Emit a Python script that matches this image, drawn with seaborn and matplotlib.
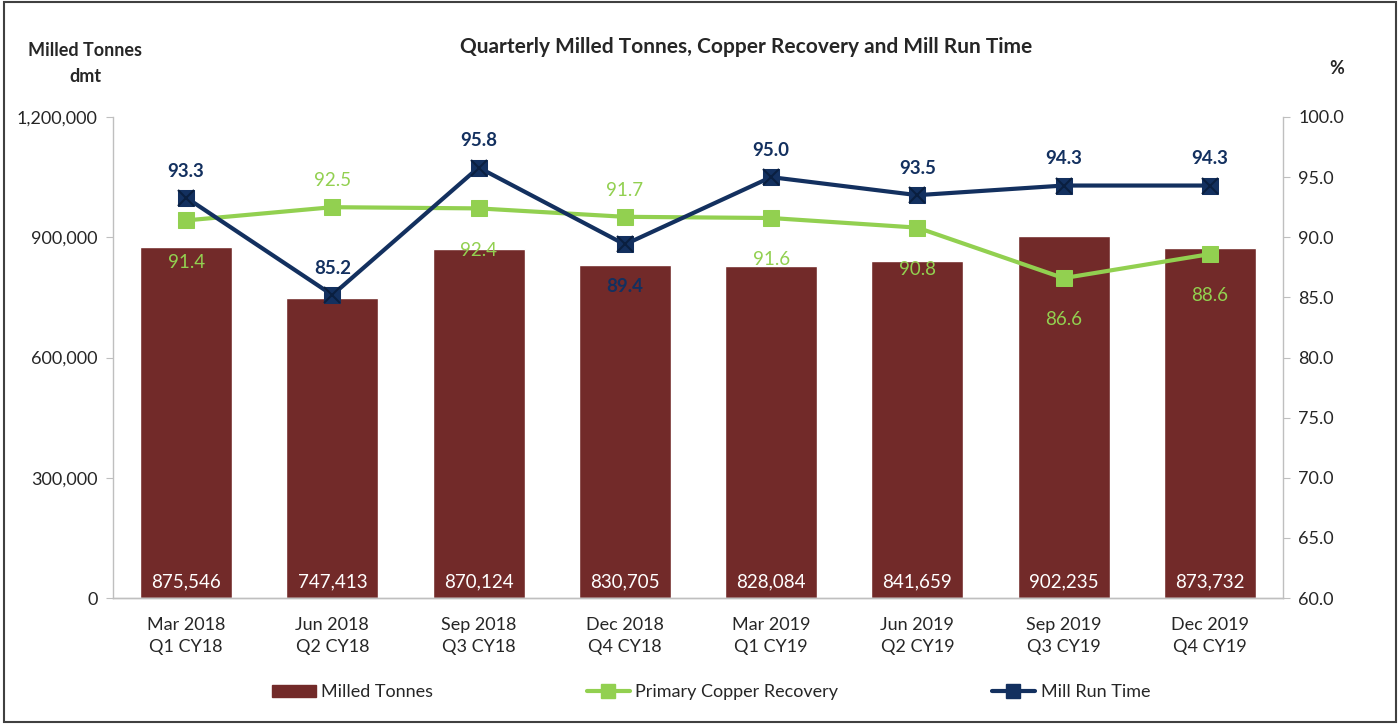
import numpy as np
import pandas as pd
import matplotlib
matplotlib.use("Agg")
import matplotlib.pyplot as plt
import seaborn as sns
from matplotlib.lines import Line2D
from matplotlib.patches import Patch, Rectangle

# data
quarters = ["Mar 2018\nQ1 CY18", "Jun 2018\nQ2 CY18", "Sep 2018\nQ3 CY18", "Dec 2018\nQ4 CY18",
            "Mar 2019\nQ1 CY19", "Jun 2019\nQ2 CY19", "Sep 2019\nQ3 CY19", "Dec 2019\nQ4 CY19"]
milled_tonnes = [875546, 747413, 870124, 830705, 828084, 841659, 902235, 873732]
copper_recovery = [91.4, 92.5, 92.4, 91.7, 91.6, 90.8, 86.6, 88.6]
mill_run_time = [93.3, 85.2, 95.8, 89.4, 95.0, 93.5, 94.3, 94.3]

# label placement: True = above the point
copper_above = [False, True, False, True, False, False, False, False]
run_above = [True, True, True, False, True, True, True, True]

BAR = "#722A29"
GREEN = "#92D050"
NAVY = "#13305F"
GRID = "#BFBFBF"

df = pd.DataFrame({"quarter": quarters, "tonnes": milled_tonnes,
                   "recovery": copper_recovery, "runtime": mill_run_time})
df["pos"] = np.arange(len(df))

sns.set_style("white")
plt.rcParams["font.family"] = ["Lato", "DejaVu Sans"]

fig = plt.figure(figsize=(14, 7.24), dpi=100)
ax = fig.add_axes([0.0807, 0.174, 0.8357, 0.6644])

sns.barplot(data=df, x="quarter", y="tonnes", color=BAR, width=0.63,
            saturation=1, ax=ax, zorder=1)
ax.set_ylim(0, 1200000)
ax.set_yticks(np.arange(0, 1200001, 300000))
ax.set_yticklabels([f"{v:,.0f}" for v in np.arange(0, 1200001, 300000)], fontsize=13)
ax.set_xlim(-0.5, len(df) - 0.5)
ax.set_xlabel("")
ax.set_ylabel("")
ax.set_xticks(df["pos"])
ax.set_xticklabels(quarters, fontsize=13, linespacing=1.45)
ax.tick_params(axis="x", length=0, pad=14)
ax.set_xticks(np.arange(-0.5, len(df), 1.0), minor=True)
ax.tick_params(axis="x", which="minor", length=6, color=GRID, direction="out")
ax.tick_params(axis="y", length=5, color=GRID, direction="out", pad=6)

for p, v in zip(df["pos"], df["tonnes"]):
    ax.text(p, 20000, f"{v:,}", ha="center", va="bottom", color="white", fontsize=13.5)

ax2 = ax.twinx()
sns.lineplot(data=df, x="pos", y="recovery", color=GREEN, lw=3, marker="s",
             markersize=11, markeredgecolor=GREEN, ax=ax2, zorder=3)
sns.lineplot(data=df, x="pos", y="runtime", color=NAVY, lw=3, marker="s",
             markersize=12, markeredgecolor=NAVY, ax=ax2, zorder=4)
ax2.plot(df["pos"], df["runtime"], ls="none", marker="x", markersize=11,
         markeredgewidth=1.5, color="#0A1F40", zorder=5)
ax2.set_ylim(60, 100)
ax2.set_yticks(np.arange(60, 100.1, 5))
ax2.set_yticklabels([f"{v:.1f}" for v in np.arange(60, 100.1, 5)], fontsize=13)
ax2.set_ylabel("")
ax2.set_xlabel("")
ax2.tick_params(axis="y", length=5, color=GRID, direction="out", pad=6)

for p, v, up in zip(df["pos"], df["recovery"], copper_above):
    ax2.annotate(f"{v:.1f}", (p, v), xytext=(0, 13 if up else -24), textcoords="offset points",
                 ha="center", va="bottom" if up else "top", color=GREEN, fontsize=13.5)
for p, v, up in zip(df["pos"], df["runtime"], run_above):
    ax2.annotate(f"{v:.1f}", (p, v), xytext=(0, 13 if up else -24), textcoords="offset points",
                 ha="center", va="bottom" if up else "top", color=NAVY, fontsize=13.5,
                 fontweight="bold")

for a in (ax, ax2):
    for s in a.spines.values():
        s.set_visible(False)
    for s in ("left", "right", "bottom"):
        a.spines[s].set_visible(True)
        a.spines[s].set_color(GRID)
        a.spines[s].set_linewidth(1)
ax2.spines["left"].set_visible(False)
ax.spines["right"].set_visible(False)

fig.text(0.0607, 0.930, "Milled Tonnes", ha="center", va="center", fontsize=13, fontweight="bold")
fig.text(0.0607, 0.895, "dmt", ha="center", va="center", fontsize=13, fontweight="bold")
fig.text(0.955, 0.905, "%", ha="center", va="center", fontsize=13, fontweight="bold")
fig.text(0.533, 0.935, "Quarterly Milled Tonnes, Copper Recovery and Mill Run Time",
         ha="center", va="center", fontsize=15, fontweight="bold")

handles = [Patch(facecolor=BAR, edgecolor=BAR),
           Line2D([], [], color=GREEN, lw=3, marker="s", markersize=10, markeredgecolor=GREEN),
           Line2D([], [], color=NAVY, lw=3, marker="s", markersize=10, markeredgecolor=NAVY)]
fig.legend(handles, ["Milled Tonnes", "Primary Copper Recovery", "Mill Run Time"],
           loc="center", bbox_to_anchor=(0.508, 0.044), ncol=3, frameon=False,
           fontsize=13, columnspacing=8.5, handlelength=2.4, handletextpad=0.3)

fig.patches.append(Rectangle((0.003, 0.003), 0.994, 0.994, transform=fig.transFigure,
                             fill=False, edgecolor="#404040", lw=1.5))

fig.savefig("out.png", dpi=100)
